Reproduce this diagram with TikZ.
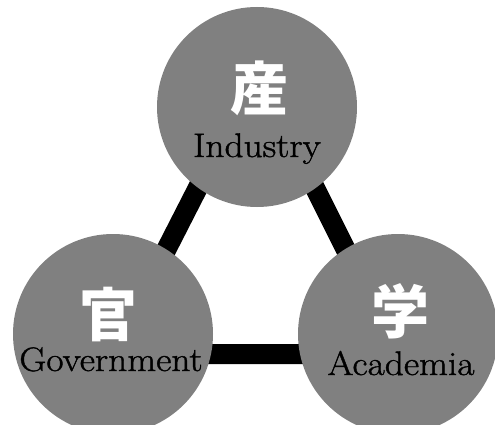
\documentclass[tikz,border=0pt]{standalone}
\usepackage{fontspec}
\newfontfamily\cjk{Noto Sans CJK JP}
\newfontfamily\latin{Latin Modern Roman}[FakeStretch=1.1,FakeBold=1.2]
\usetikzlibrary{positioning,backgrounds}

\begin{document}
\begin{tikzpicture}[x=1pt,y=-1pt,
  hub/.style={circle,fill=black!50,minimum size=200pt,inner sep=0pt},
  kanji/.style={text=white,font=\cjk\bfseries\fontsize{58}{58}\selectfont},
  word/.style={anchor=base,font=\latin\fontsize{34}{34}\selectfont},
  bar/.style={line width=20pt,line join=miter}]
  \useasboundingbox (0,0) rectangle (495,425);
  \clip (0,0) rectangle (495,425);

  % circles
  \node[hub] (ind) at (257,107) {};
  \node[hub] (gov) at (113,334) {};
  \node[hub] (aca) at (398,334) {};

  % labels
  \node[kanji] (indk) at (259,88) {産};
  \node[word] (indw) at (257,157) {Industry};
  \node[kanji] (govk) at (108,315) {官};
  \node[word] (govw) at (111,371) {Government};
  \node[kanji] (acak) at (400,311) {学};
  \node[word] (acaw) at (401,375) {Academia};

  % bars
  \begin{pgfonlayer}{background}
    \draw[bar] ([yshift=35pt]ind.center) -- ([yshift=-20pt]gov.center)
      -- ([yshift=-20pt]aca.center) -- cycle;
  \end{pgfonlayer}
\end{tikzpicture}
\end{document}
